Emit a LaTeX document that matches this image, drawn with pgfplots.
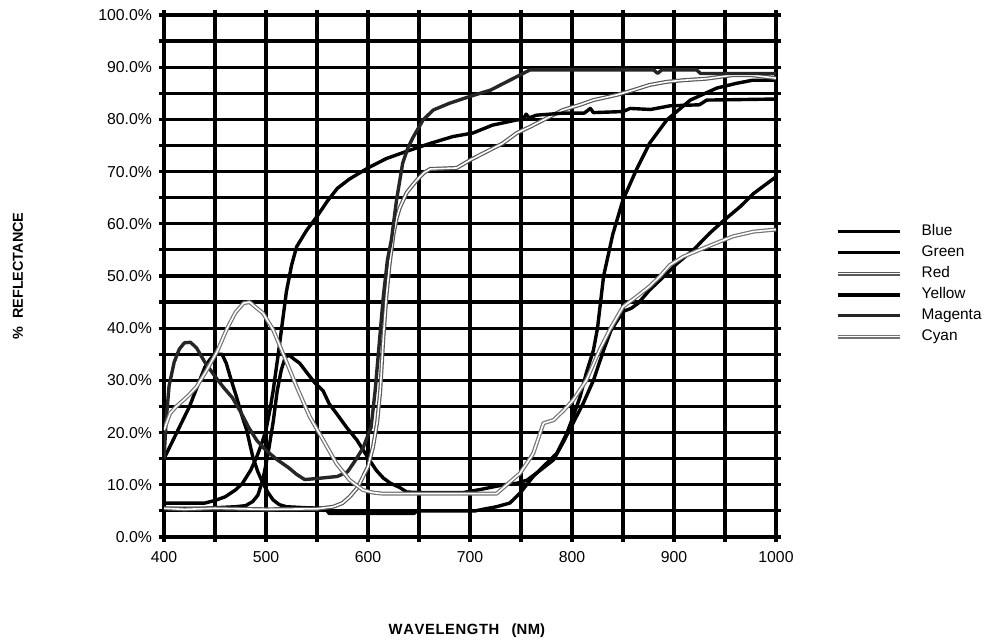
\documentclass[border=0pt]{standalone}
\usepackage{fontspec}
\setmainfont{Liberation Sans}
\usepackage{pgfplots}
\pgfplotsset{compat=1.18}
\begin{document}
\begin{tikzpicture}[x=1pt,y=1pt]
\useasboundingbox (-82,-52) rectangle (410,268.5);
\begin{axis}[
  at={(0,0)}, anchor=south west,
  scale only axis, width=306pt, height=261pt,
  xmin=400, xmax=1000, ymin=0, ymax=100,
  xtick={400,500,...,1000}, minor xtick={450,550,...,950},
  ytick={0,10,...,100}, minor ytick={5,15,...,95},
  xticklabels={400,500,600,700,800,900,1000},
  yticklabels={0.0\%,10.0\%,20.0\%,30.0\%,40.0\%,50.0\%,60.0\%,70.0\%,80.0\%,90.0\%,100.0\%},
  /pgf/number format/assume math mode=true,
  grid=both,
  major grid style={line width=1.6pt, black},
  minor grid style={line width=1.6pt, black},
  axis line style={line width=1.8pt, black},
  tick align=outside,
  major tick length=2.5pt, minor tick length=2.5pt,
  every tick/.style={line width=1.6pt, black},
  tick label style={font=\fontsize{7.9}{9}\selectfont},
  xticklabel style={yshift=-1pt},
  xlabel={\bfseries W\kern0.3pt A\kern0.3pt V\kern0.3pt E\kern0.3pt L\kern0.3pt E\kern0.3pt N\kern0.3pt G\kern0.3pt T\kern0.3pt H\ \ \ (N\kern0.3pt M)},
  xlabel style={at={(axis description cs:0.495,-0.18)}, anchor=center, font=\fontsize{7.4}{8}\selectfont},
  ylabel={\bfseries \%\ \ REFLECTANCE},
  ylabel style={at={(axis description cs:-0.2386,0.5)}, anchor=center, font=\fontsize{7.2}{8}\selectfont},
  legend style={at={(1.087,0.615)}, anchor=north west, draw=none, fill=none,
    font=\fontsize{7.7}{9}\selectfont, row sep=-0.45pt,
    /tikz/every odd column/.append style={column sep=8pt}},
  legend cell align=left,
  legend image code/.code={\draw[#1] (0pt,0pt) -- (31pt,0pt);},
  every axis plot/.append style={line join=round},
]
% Blue
\addplot[black, line width=1.7pt] coordinates {
(400,15) (405,17) (410,19) (415,21) (420,23) (425,25) (430,27.5) (435,30) (440,32.5) (445,34) (450,35) (457,35) (461,33.3) (466,30) (471,26.9) (476,23.5) (481,20.5) (487,15.4) (492,12.5) (497,10.3) (502,8.5) (507,7.1) (513,6.2) (520,5.8) (540,5.6) (558,5.5) (562,4.5) (645,4.5) (648,5) (705,5) (710,5.2) (726,5.8) (739,6.5) (749,8.4) (762,11.6) (775,14.1) (785,16) (795,19.9) (801,23) (808,26.9) (814,31.4) (821,35.8) (825,40) (831,50) (840,58) (850,64.6) (863,70.3) (876,75.4) (893,79.9) (916,83.7) (942,86) (961,86.9) (977,87.5) (1000,87.5)
};
\addlegendentry{Blue}
% Green
\addplot[black, line width=1.7pt] coordinates {
(400,5.5) (440,5.5) (470,5.8) (480,6) (487,6.8) (492,8) (497,11) (502,16) (507,22) (511,28) (515,32) (519,34.5) (523,34.8) (528,34) (533,33.3) (540,31.5) (548,29.5) (556,28) (562,25.5) (569,23.7) (579,21) (589,18.6) (599,15.5) (608,12.8) (615,11.3) (622,10.3) (631,9.5) (638,8.6) (660,8.5) (693,8.5) (710,9.1) (733,10) (746,10.3) (756,10.9) (769,12.8) (782,14.8) (791,18) (801,21.8) (811,25.6) (821,30) (831,35.8) (838,39.5) (850,43.2) (858,43.8) (865,44.8) (876,47.3) (890,49.9) (903,52.4) (919,55) (935,58.2) (948,60.5) (965,63.3) (978,65.8) (1000,69)
};
\addlegendentry{Green}
% Red
\addplot[draw=black!65, line width=0.6pt, double=white, double distance=0.8pt] coordinates {
(400,5.5) (420,5.3) (450,5.5) (500,5.3) (550,5.4) (566,5.8) (575,6.5) (582,7.7) (590,9.5) (595,11.5) (600,13.5) (605,17.3) (609,22) (612,28) (615,38) (618,46) (621,52) (625,58) (628,61) (631,63) (638,66) (648,68.4) (655,69.8) (661,70.5) (687,70.7) (700,72.2) (716,73.8) (732,75.4) (746,77.4) (759,78.6) (775,80.2) (791,81.8) (808,82.8) (821,83.7) (844,84.7) (860,85.6) (876,86.6) (893,87.2) (909,87.5) (932,87.8) (958,88.5) (975,88.5) (1000,87.9)
};
\addlegendentry{Red}
% Yellow
\addplot[black, line width=1.7pt] coordinates {
(400,6.5) (440,6.5) (450,7) (460,7.7) (470,9) (477,10.3) (485,12.8) (491,15.4) (496,18) (500,20.5) (504,24.5) (507,28) (512,35) (516,41) (520,47) (525,52) (530,55.6) (540,58.8) (550,61.4) (560,64.3) (570,66.8) (582,68.6) (600,70.7) (618,72.5) (641,74.1) (661,75.4) (683,76.7) (703,77.4) (722,78.9) (746,79.9) (752,80) (755,81) (758,80.3) (765,80.8) (791,81.2) (812,81.2) (818,82.1) (821,81.3) (850,81.5) (857,82.1) (877,81.9) (896,82.6) (925,82.8) (932,83.7) (1000,83.9)
};
\addlegendentry{Yellow}
% Magenta
\addplot[black!85, line width=1.7pt] coordinates {
(400,15) (402,22) (405,29) (410,33.5) (415,36) (420,37.2) (426,37.3) (432,36.2) (440,33.5) (451,30.5) (459,28.5) (467,26.7) (475,24) (483,21) (491,18.5) (500,16.6) (511,14.8) (522,13.3) (530,12) (538,11) (555,11.3) (570,11.6) (580,12.5) (587,14.5) (595,17) (603,21) (607,28) (611,37) (615,46) (619,53) (623,57) (628,64.6) (634,71.6) (639,74.5) (644,76.5) (654,79.9) (664,81.8) (680,83.1) (700,84.4) (720,85.6) (739,87.5) (759,89.5) (880,89.5) (884,88.8) (888,89.5) (922,89.5) (926,88.8) (1000,88.8)
};
\addlegendentry{Magenta}
% Cyan
\addplot[draw=black!55, line width=0.6pt, double=white, double distance=0.8pt] coordinates {
(400,20.5) (406,23.7) (412,25) (419,26.2) (425,27.3) (432,28.8) (442,32) (452,35.5) (462,40) (470,43) (478,44.8) (484,45) (490,44) (497,42.9) (507,39.7) (517,35) (530,28.8) (543,23) (556,18.6) (569,14.1) (582,10.9) (595,9) (605,8.5) (615,8.3) (726,8.3) (736,10) (749,12.2) (762,16) (772,21.8) (782,22.4) (792,24.3) (801,26.2) (814,30) (827,35.8) (837,39.7) (850,44.1) (863,46) (876,48) (886,49.9) (896,52.1) (909,53.7) (925,55) (945,56.6) (958,57.6) (978,58.5) (1000,58.9)
};
\addlegendentry{Cyan}
\end{axis}
\end{tikzpicture}
\end{document}
